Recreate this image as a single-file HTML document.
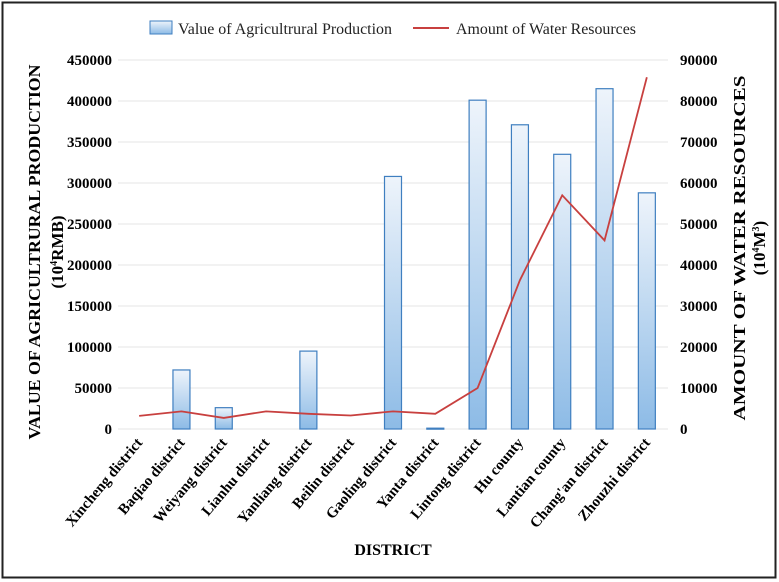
<!DOCTYPE html>
<html><head><meta charset="utf-8"><style>
html,body{margin:0;padding:0;background:#fff;}
svg{display:block;font-family:"Liberation Serif",serif;}
</style></head><body>
<svg id="chart" width="779" height="582">
<defs>
<linearGradient id="bg" x1="0" y1="0" x2="0" y2="1">
<stop offset="0" stop-color="#eef4fb"/><stop offset="1" stop-color="#8dbbe6"/>
</linearGradient>
</defs>
<rect x="2.5" y="2.5" width="773" height="575" fill="#fff" stroke="#222" stroke-width="2"/>
<g id="grid"></g><g id="bars"></g><g id="line"></g><g id="axes"></g>
<g>
<rect x="150" y="21" width="22" height="13" fill="url(#bg)" stroke="#3f7fc0"/>
<text x="178" y="34" font-size="16" fill="#222" textLength="214" lengthAdjust="spacingAndGlyphs">Value of Agricultrural Production</text>
<line x1="413" y1="28" x2="449" y2="28" stroke="#c8403f" stroke-width="2"/>
<text x="456" y="34" font-size="16" fill="#222" textLength="180" lengthAdjust="spacingAndGlyphs">Amount of Water Resources</text>
</g>
<text x="393" y="555" font-size="16" font-weight="bold" text-anchor="middle">DISTRICT</text>
<text transform="translate(40,252) rotate(-90)" font-size="17" font-weight="bold" text-anchor="middle" textLength="375" lengthAdjust="spacingAndGlyphs">VALUE OF AGRICULTRURAL PRODUCTION</text>
<text transform="translate(63,252) rotate(-90)" font-size="17" font-weight="bold" text-anchor="middle">(10<tspan font-size="10" dy="-6">4</tspan><tspan dy="6">RMB)</tspan></text>
<text transform="translate(745,248) rotate(-90)" font-size="17" font-weight="bold" text-anchor="middle" textLength="345" lengthAdjust="spacingAndGlyphs">AMOUNT OF WATER RESOURCES</text>
<text transform="translate(765,248) rotate(-90)" font-size="17" font-weight="bold" text-anchor="middle">(10<tspan font-size="10" dy="-6">4</tspan><tspan dy="6">M</tspan><tspan font-size="10" dy="-6">3</tspan><tspan dy="6">)</tspan></text>
</svg>
<script>
const categories=["Xincheng district","Baqiao district","Weiyang district","Lianhu district","Yanliang district","Beilin district","Gaoling district","Yanta district","Lintong district","Hu county","Lantian county","Chang'an district","Zhouzhi district"];
const production=[0,72000,26000,0,95000,0,308000,1000,401000,371000,335000,415000,288000];
const water=[3200,4300,2700,4300,3700,3300,4300,3700,10000,36300,57000,46000,85800];
const leftTicks=[0,50000,100000,150000,200000,250000,300000,350000,400000,450000];
const rightTicks=[0,10000,20000,30000,40000,50000,60000,70000,80000,90000];
const NS="http://www.w3.org/2000/svg";
const X0=118,X1=668,Y0=429,Y1=60;
const step=(X1-X0)/categories.length;
const xc=i=>X0+step*(i+0.5);
const yL=v=>Y0-(v/450000)*(Y0-Y1);
const yR=v=>Y0-(v/90000)*(Y0-Y1);
function mk(tag,attrs,parent){const e=document.createElementNS(NS,tag);for(const k in attrs)e.setAttribute(k,attrs[k]);document.getElementById(parent).appendChild(e);return e;}
leftTicks.forEach((t,i)=>{
 const y=yL(t);
 const g=mk('line',{x1:X0,x2:X1,y1:y,y2:y,stroke:'#e4e4e4','stroke-width':1},'grid');
 
 
 const tx=mk('text',{x:X0-6,y:y+5,'font-size':15,'font-weight':'bold','text-anchor':'end'},'axes');
 tx.textContent=t;
 
 
});
rightTicks.forEach(t=>{
 const tx=mk('text',{x:680,y:yR(t)+5,'font-size':15,'font-weight':'bold'},'axes');
 tx.textContent=t;
 
 
});
const bw=17;
production.forEach((v,i)=>{
 if(v<=0)return;
 const y=yL(v);
 const r=mk('rect',{x:xc(i)-bw/2,y:y,width:bw,height:Math.max(Y0-y,1),fill:'url(#bg)',stroke:'#3f7fc0','stroke-width':1.2},'bars');
 
 
});
const pts=water.map((v,i)=>xc(i)+','+yR(v)).join(' ');
const pl=mk('polyline',{points:pts,fill:'none',stroke:'#c8403f','stroke-width':1.8},'line');


categories.forEach((c,i)=>{
 const x=xc(i)+4,y=443;
 const tx=mk('text',{x:x,y:y,'font-size':15,'font-weight':'bold','text-anchor':'end',transform:`rotate(-50 ${x} ${y})`},'axes');
 tx.textContent=c;
 
 
});
</script>
</body></html>
